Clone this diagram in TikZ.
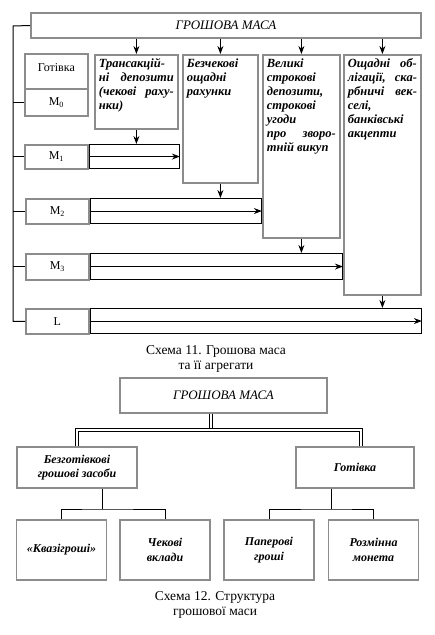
\documentclass[tikz,border=0pt]{standalone}
\usepackage{fontspec}
\setmainfont{Liberation Serif}
\usetikzlibrary{arrows.meta, positioning}
\definecolor{BoxGray}{HTML}{8C8C8C}

\begin{document}
\begin{tikzpicture}[x=1pt, y=-1pt,
  gbox/.style={draw=BoxGray, line width=1.8pt, inner sep=0pt},
  title/.style={gbox, font=\fontsize{13}{15}\selectfont\itshape},
  agg/.style={gbox, anchor=north west, minimum width=63pt, font=\fontsize{12}{14}\selectfont},
  col/.style={gbox, anchor=north west, inner sep=4pt, font=\fontsize{12.5}{14}\selectfont\bfseries\itshape},
  row/.style={draw, line width=1.1pt, anchor=north west, inner sep=0pt},
  leaf/.style={gbox, minimum width=90pt, minimum height=60pt, align=center,
               font=\fontsize{12}{14.5}\selectfont\bfseries\itshape},
  arr/.style={-{Stealth[length=8pt, width=6pt]}, line width=1pt},
  link/.style={line width=1pt},
  dbl/.style={double, double distance=1.8pt, line width=0.9pt},
  caption/.style={align=center, font=\fontsize{13.5}{14.5}\selectfont}
]
\useasboundingbox (0,0) rectangle (435,635);

% ── SCHEME 11: AGGREGATES ─────────────────────────────────────────────────────
\node[title, minimum width=390pt, minimum height=25pt] (gm) at (226,25.5) {ГРОШОВА МАСА};

\node[agg, minimum height=35pt, text depth=8pt] (cash) at (24,53)  {Готівка};
\node[agg, minimum height=27pt] (m0)   at (24,88)  {M\textsubscript{0}};
\node[agg, minimum height=24pt] (m1)   at (24,144) {M\textsubscript{1}};
\node[agg, minimum height=25pt] (m2)   at (25,198) {M\textsubscript{2}};
\node[agg, minimum height=26pt] (m3)   at (25,253) {M\textsubscript{3}};
\node[agg, minimum height=25pt] (mL)   at (25,308) {L};

\node[col] (c1) at (94,54)  {\parbox[t][66pt][t]{75pt}{\raggedright
  Трансакцій-\\ні\hfill депозити\\(чекові\hfill раху-\\нки)}};
\node[col] (c2) at (182,54) {\parbox[t][120pt][t]{67pt}{\raggedright
  Безчекові\\ощадні\\рахунки}};
\node[col] (c3) at (262,54) {\parbox[t][175pt][t]{69pt}{\raggedright
  Великі\\строкові\\депозити,\\строкові\\угоди\\про\hfill зворо-\\тній викуп}};
\node[col] (c4) at (343,54) {\parbox[t][232pt][t]{69pt}{\raggedright
  Ощадні\hfill об-\\лігації,\hfill ска-\\рбничі\hfill век-\\селі,\\банківські\\акцепти}};

% rows of the aggregates
\node[row, minimum width=90pt,  minimum height=24pt] (r1) at (m1.north east) {};
\node[row, minimum width=171pt, minimum height=25pt] (r2) at (m2.north east) {};
\node[row, minimum width=252pt, minimum height=26pt] (r3) at (m3.north east) {};
\node[row, minimum width=331pt, minimum height=25pt] (rL) at (mL.north east) {};

\foreach \r in {r1,r2,r3,rL}
  \draw[arr] (\r.west) -- (\r.east);

\foreach \c in {c1,c2,c3,c4}
  \draw[arr] (gm.south -| \c.north) -- (\c.north);

\draw[arr] (c1.south) -- (c1.south |- r1.north);
\draw[arr] (c2.south) -- (c2.south |- r2.north);
\draw[arr] (c3.south) -- (c3.south |- r3.north);
\draw[arr] (c4.south) -- (c4.south |- rL.north);

% left spine
\coordinate (spine) at (13,26);
\draw[link] (gm.west) -- (spine) |- (mL.west);
\foreach \m in {m0,m1,m2,m3}
  \draw[link] (\m.west -| spine) -- (\m.west);

\node[caption] (cap11) at (216,359) {Схема 11. Грошова маса\\та її агрегати};

% ── SCHEME 12: STRUCTURE ──────────────────────────────────────────────────────
\node[title, minimum width=207pt, minimum height=35pt] (gm2) at (223.5,395.5) {ГРОШОВА МАСА};

\node[leaf, minimum width=120pt, minimum height=41pt] (b1) at (77,467.5)  {Безготівкові\\грошові засоби};
\node[leaf, minimum width=118pt, minimum height=41pt] (b2) at (355,467.5) {Готівка};

\coordinate (split) at (211,430);
\draw[dbl] (split |- gm2.south) -- (split);
\draw[dbl] (b1.north) |- (split) -| ([xshift=6pt]b2.north);

\node[leaf] (l1) at (61.5,550) {«Квазігроші»};
\node[leaf] (l2) at (165,550)  {Чекові\\вклади};
\node[leaf] (l3) at (269,550)  {Паперові\\гроші};
\node[leaf] (l4) at (373.5,550) {Розмінна\\монета};

\coordinate (f1) at (102,509);
\coordinate (f2) at (331,509);
\draw[link] (f1 |- b1.south) -- (f1);
\draw[link] (l1.north) |- (f1) -| (l2.north);
\draw[link] (f2 |- b2.south) -- (f2);
\draw[link] (l3.north) |- (f2) -| (l4.north);

\node[caption] (cap12) at (215,605) {Схема 12. Структура\\грошової маси};

\end{tikzpicture}
\end{document}
